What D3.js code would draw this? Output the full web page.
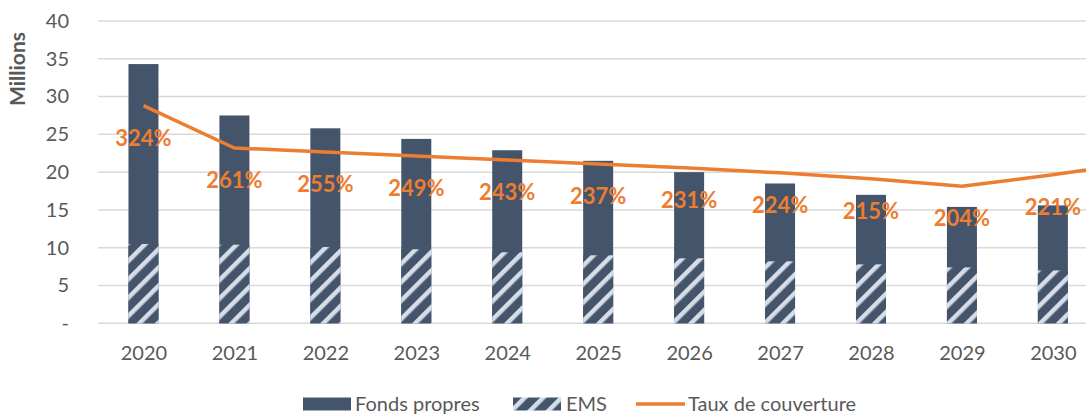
<!DOCTYPE html>
<html>
<head>
<meta charset="utf-8">
<script src="https://cdn.jsdelivr.net/npm/d3@7"></script>
<style>
  html, body { margin: 0; padding: 0; background: #fff; }
  svg { display: block; font-family: Lato, "Open Sans", sans-serif; }
</style>
</head>
<body>
<div id="chart"></div>
<script>
// --- data (2031 only carries the line past the right edge)
var years        = ['2020', '2021', '2022', '2023', '2024', '2025', '2026', '2027', '2028', '2029', '2030', '2031'];
var fondsPropres = [34.3, 27.5, 25.8, 24.4, 22.9, 21.5, 20.0, 18.5, 17.0, 15.4, 15.6];
var ems          = [10.5, 10.4, 10.1, 9.8, 9.4, 9.0, 8.6, 8.2, 7.8, 7.4, 7.0];
var taux         = [324, 261, 255, 249, 243, 237, 231, 224, 215, 204, 221, 241];
var yTicks       = [0, 5, 10, 15, 20, 25, 30, 35, 40];

var config = {
  width: 1086,
  height: 414,
  left: 98,
  top: 21,
  bottom: 323.3,
  step: 90.94,
  barWidth: 30,
  barColor: '#44546a',
  hatchColor: '#d6dde8',
  lineColor: '#ed7d31',
  gridColor: '#d9d9d9',
  textColor: '#595959'
};

var svg = d3.select('#chart').append('svg')
  .attr('width', config.width)
  .attr('height', config.height);

// hatch for EMS
var defs = svg.append('defs');
var pat = defs.append('pattern')
  .attr('id', 'hatch')
  .attr('patternUnits', 'userSpaceOnUse')
  .attr('width', 13).attr('height', 13)
  .attr('patternTransform', 'rotate(45)');
pat.append('rect').attr('width', 13).attr('height', 13).attr('fill', config.barColor);
pat.append('rect').attr('x', 0).attr('width', 4.5).attr('height', 13).attr('fill', config.hatchColor);

// scales
var x = d3.scalePoint()
  .domain(years)
  .range([config.left, config.left + config.step * years.length])
  .padding(0.5);

var y = d3.scaleLinear().domain([0, 40]).range([config.bottom, config.top]);
var y2 = d3.scaleLinear().domain([0, 450]).range([config.bottom, config.top]);

// gridlines
svg.append('g').selectAll('line').data(yTicks).enter().append('line')
  .attr('x1', config.left).attr('x2', config.width)
  .attr('y1', function(d) { return y(d); })
  .attr('y2', function(d) { return y(d); })
  .attr('stroke', config.gridColor)
  .attr('stroke-width', 1.5);

// y axis labels
var yAxis = d3.axisLeft(y)
  .tickValues(yTicks)
  .tickSize(0)
  .tickPadding(0)
  .tickFormat(function(d) { return d === 0 ? '-' : d; });

var gy = svg.append('g')
  .attr('transform', 'translate(69,0)')
  .call(yAxis);
gy.select('.domain').remove();
gy.selectAll('text')
  .attr('fill', config.textColor)
  .attr('font-size', 20)
  .attr('font-family', 'Lato, sans-serif');

// x axis labels (only the visible years)
var xAxis = d3.axisBottom(x)
  .tickValues(years.slice(0, fondsPropres.length))
  .tickSize(0)
  .tickPadding(0);
var gx = svg.append('g')
  .attr('transform', 'translate(0,346)')
  .call(xAxis);
gx.select('.domain').remove();
gx.selectAll('text')
  .attr('fill', config.textColor)
  .attr('font-size', 20)
  .attr('font-family', 'Lato, sans-serif');

// axis title
svg.append('text')
  .attr('transform', 'translate(25,69) rotate(-90)')
  .attr('text-anchor', 'middle')
  .attr('font-size', 21)
  .attr('font-weight', 'bold')
  .attr('fill', config.textColor)
  .text('Millions');

// bars: Fonds propres, EMS overlapped in front
svg.append('g').selectAll('rect').data(fondsPropres).enter().append('rect')
  .attr('x', function(d, i) { return x(years[i]) - config.barWidth / 2; })
  .attr('y', function(d) { return y(d); })
  .attr('width', config.barWidth)
  .attr('height', function(d) { return y(0) - y(d); })
  .attr('fill', config.barColor);

svg.append('g').selectAll('rect').data(ems).enter().append('rect')
  .attr('x', function(d, i) { return x(years[i]) - config.barWidth / 2; })
  .attr('y', function(d) { return y(d); })
  .attr('width', config.barWidth)
  .attr('height', function(d) { return y(0) - y(d); })
  .attr('fill', 'url(#hatch)');

// taux de couverture line (secondary axis, hidden)
var line = d3.line()
  .x(function(d, i) { return x(years[i]); })
  .y(function(d) { return y2(d); });

svg.append('path')
  .datum(taux)
  .attr('d', line)
  .attr('fill', 'none')
  .attr('stroke', config.lineColor)
  .attr('stroke-width', 3.5)
  .attr('stroke-linejoin', 'round');

// data labels below points
svg.append('g').selectAll('text').data(taux.slice(0, fondsPropres.length)).enter().append('text')
  .attr('x', function(d, i) { return x(years[i]); })
  .attr('y', function(d) { return y2(d) + 40; })
  .attr('text-anchor', 'middle')
  .attr('font-size', 22)
  .attr('font-weight', 'bold')
  .attr('fill', config.lineColor)
  .text(function(d) { return d + '%'; });

// legend
var legend = svg.append('g').attr('font-size', 20).attr('fill', config.textColor);
var ly = 404;

legend.append('rect').attr('x', 303).attr('y', ly - 6.5).attr('width', 48).attr('height', 13).attr('fill', config.barColor);
legend.append('text').attr('x', 355).attr('y', ly).attr('dy', '0.35em').text('Fonds propres');

legend.append('rect').attr('x', 513).attr('y', ly - 6.5).attr('width', 48).attr('height', 13).attr('fill', 'url(#hatch)');
legend.append('text').attr('x', 566).attr('y', ly).attr('dy', '0.35em').text('EMS');

legend.append('line').attr('x1', 636).attr('x2', 685).attr('y1', ly).attr('y2', ly)
  .attr('stroke', config.lineColor).attr('stroke-width', 3.5);
legend.append('text').attr('x', 688).attr('y', ly).attr('dy', '0.35em').text('Taux de couverture');
</script>
</body>
</html>
